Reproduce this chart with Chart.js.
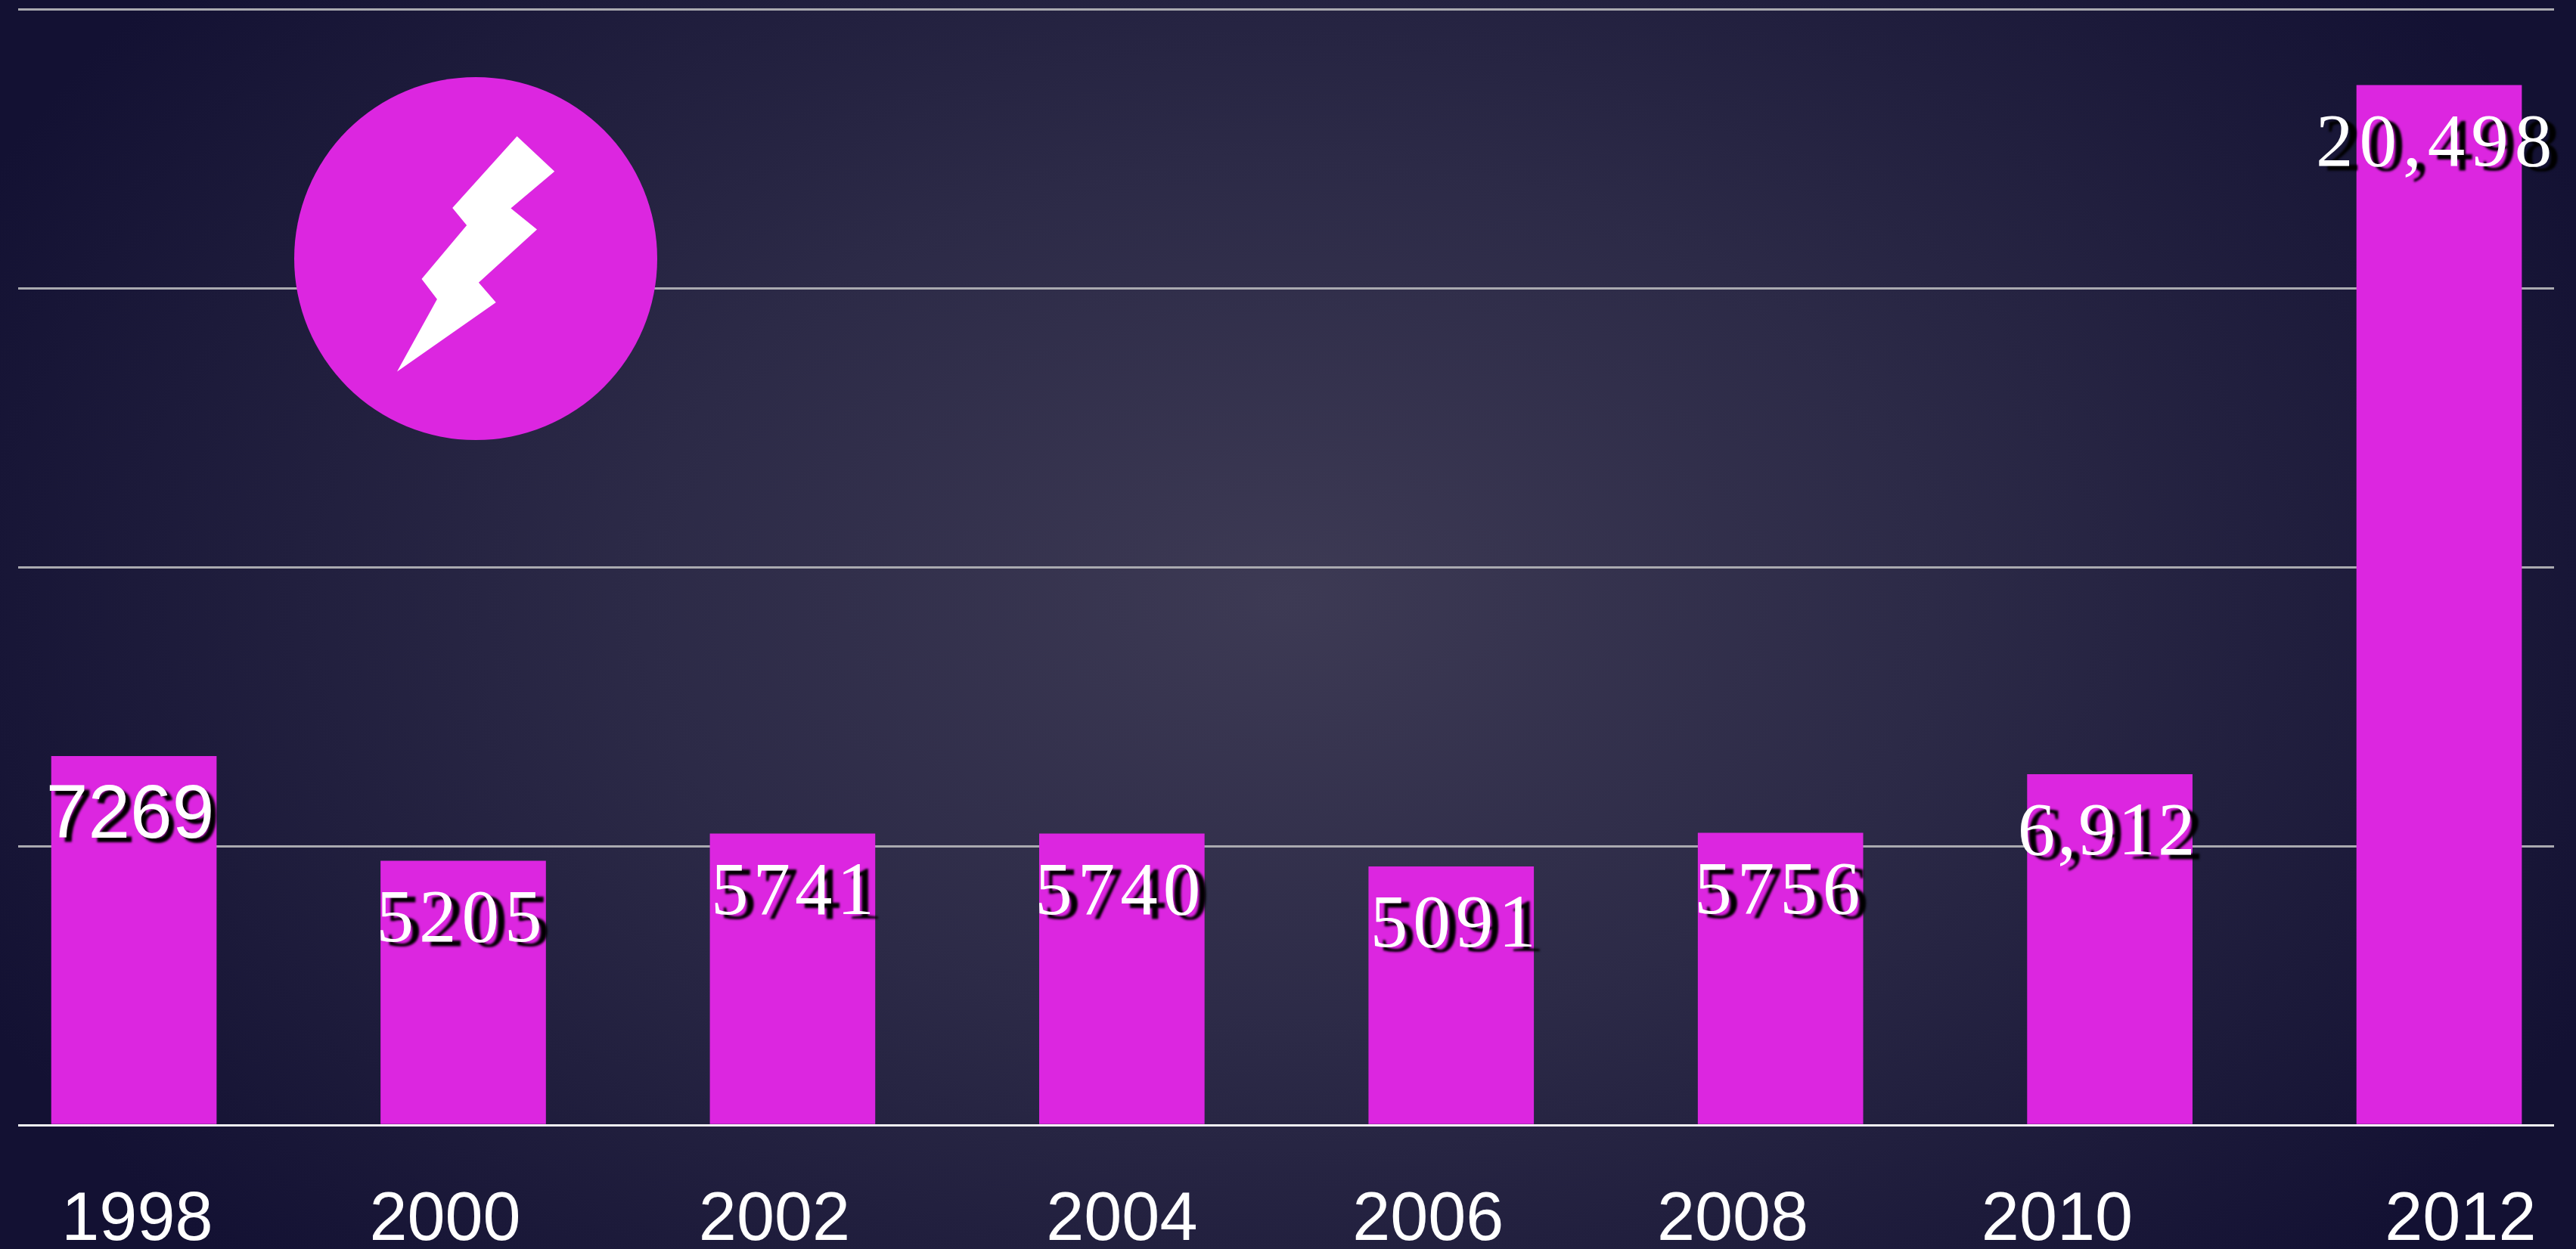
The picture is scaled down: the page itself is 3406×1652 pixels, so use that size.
<!DOCTYPE html>
<html>
<head>
<meta charset="utf-8">
<title>Chart</title>
<script src="https://cdn.jsdelivr.net/npm/chart.js@4"></script>
<style>
    html, body { margin: 0; padding: 0; width: 3406px; height: 1652px; overflow: hidden; }
    body { background: radial-gradient(ellipse 1900px 1300px at 1703px 790px, #3d3a54 0%, #2c2a47 45%, #1c1a3a 80%, #131133 100%); }
    #wrap { position: absolute; left: 0; top: 0; width: 3406px; height: 1652px; }
</style>
</head>
<body>
<div id="wrap"><canvas id="chart"></canvas></div>
<script>
const years = [1998, 2000, 2002, 2004, 2006, 2008, 2010, 2012];
const values = [7269, 5205, 5741, 5740, 5091, 5756, 6912, 20498];
const valueLabels = ['7269', '5205', '5741', '5740', '5091', '5756', '6,912', '20,498'];
const yTicks = [0, 5500, 11000, 16500, 22000];

// the year labels and value labels sit a little off their bars in the original
const yearShift = [0.02, -0.11, -0.11, 0, -0.14, -0.29, -0.32, 0.13];
const valueShift = [-5, -2, 3, -2, 6, -1, -3, -3];
const spacing = [0, 7, 6, 7, 7, 7, 3, 8];
const valueFonts = ['sans', 'serif', 'serif', 'serif', 'serif', 'serif', 'serif', 'serif'];

const magenta = '#dc26e0';

const iconPlugin = {
    id: 'icon',
    beforeDatasetsDraw(chart) {
        const ctx = chart.ctx;
        ctx.save();
        ctx.fillStyle = magenta;
        ctx.beginPath();
        ctx.arc(629, 342, 240, 0, Math.PI * 2);
        ctx.fill();
        ctx.fillStyle = '#fff';
        ctx.translate(350, 70);
        ctx.fill(new Path2D('M333.6 110.2L383.2 156.7L325.4 205.6L360 233.5L282.9 303.7L305.7 329.9L175 421.5L227.9 325.8L207.5 298.9L267.1 228L248.2 204.9Z'));
        ctx.restore();
    }
};

const valueLabelPlugin = {
    id: 'valueLabels',
    afterDatasetsDraw(chart) {
        const ctx = chart.ctx;
        const bars = chart.getDatasetMeta(0).data;
        ctx.save();
        ctx.textAlign = 'center';
        ctx.textBaseline = 'middle';
        ctx.fillStyle = '#fff';
        ctx.shadowColor = '#000';
        ctx.shadowBlur = 3;
        bars.forEach(function(bar, i) {
            if (valueFonts[i] === 'sans') {
                ctx.font = '100px "Liberation Sans"';
                ctx.shadowOffsetX = 7;
            } else {
                ctx.font = '99px "Liberation Serif"';
                ctx.shadowOffsetX = 11;
            }
            ctx.shadowOffsetY = 6;
            ctx.letterSpacing = spacing[i] + 'px';
            ctx.fillText(valueLabels[i], bar.x + valueShift[i], bar.y + 80);
        });
        ctx.restore();
    }
};

new Chart(document.getElementById('chart'), {
    type: 'bar',
    data: {
        datasets: [{
            data: years.map(function(y, i) { return { x: y, y: values[i] }; }),
            backgroundColor: magenta,
            borderWidth: 0,
            barThickness: 218
        }]
    },
    options: {
        responsive: true,
        maintainAspectRatio: false,
        animation: false,
        devicePixelRatio: 1,
        layout: { padding: { left: 24, right: 29, top: 12, bottom: 0 } },
        plugins: {
            legend: { display: false },
            tooltip: { enabled: false }
        },
        scales: {
            x: {
                type: 'linear',
                offset: false,
                min: 1997.297,
                max: 2012.698,
                grid: { display: false },
                border: { display: false },
                afterBuildTicks: function(scale) {
                    scale.ticks = years.map(function(y, i) { return { value: y + yearShift[i] }; });
                },
                afterFit: function(scale) {
                    scale.height = 164;
                    // 2012 label hangs past the plot edge, don't let it squeeze the plot
                    scale.paddingLeft = 0;
                    scale.paddingRight = 0;
                },
                ticks: {
                    autoSkip: false,
                    maxRotation: 0,
                    color: '#fff',
                    padding: 65,
                    font: { family: '"Liberation Sans"', size: 90 },
                    callback: function(value, index) { return years[index]; }
                }
            },
            y: {
                min: 0,
                max: 22000,
                afterBuildTicks: function(scale) {
                    scale.ticks = yTicks.map(function(v) { return { value: v }; });
                },
                ticks: { display: false },
                border: { display: false },
                grid: {
                    drawTicks: false,
                    lineWidth: 3,
                    color: function(c) { return c.tick.value === 0 ? '#f4f4f6' : '#aaaab0'; }
                }
            }
        }
    },
    plugins: [iconPlugin, valueLabelPlugin]
});
</script>
</body>
</html>
